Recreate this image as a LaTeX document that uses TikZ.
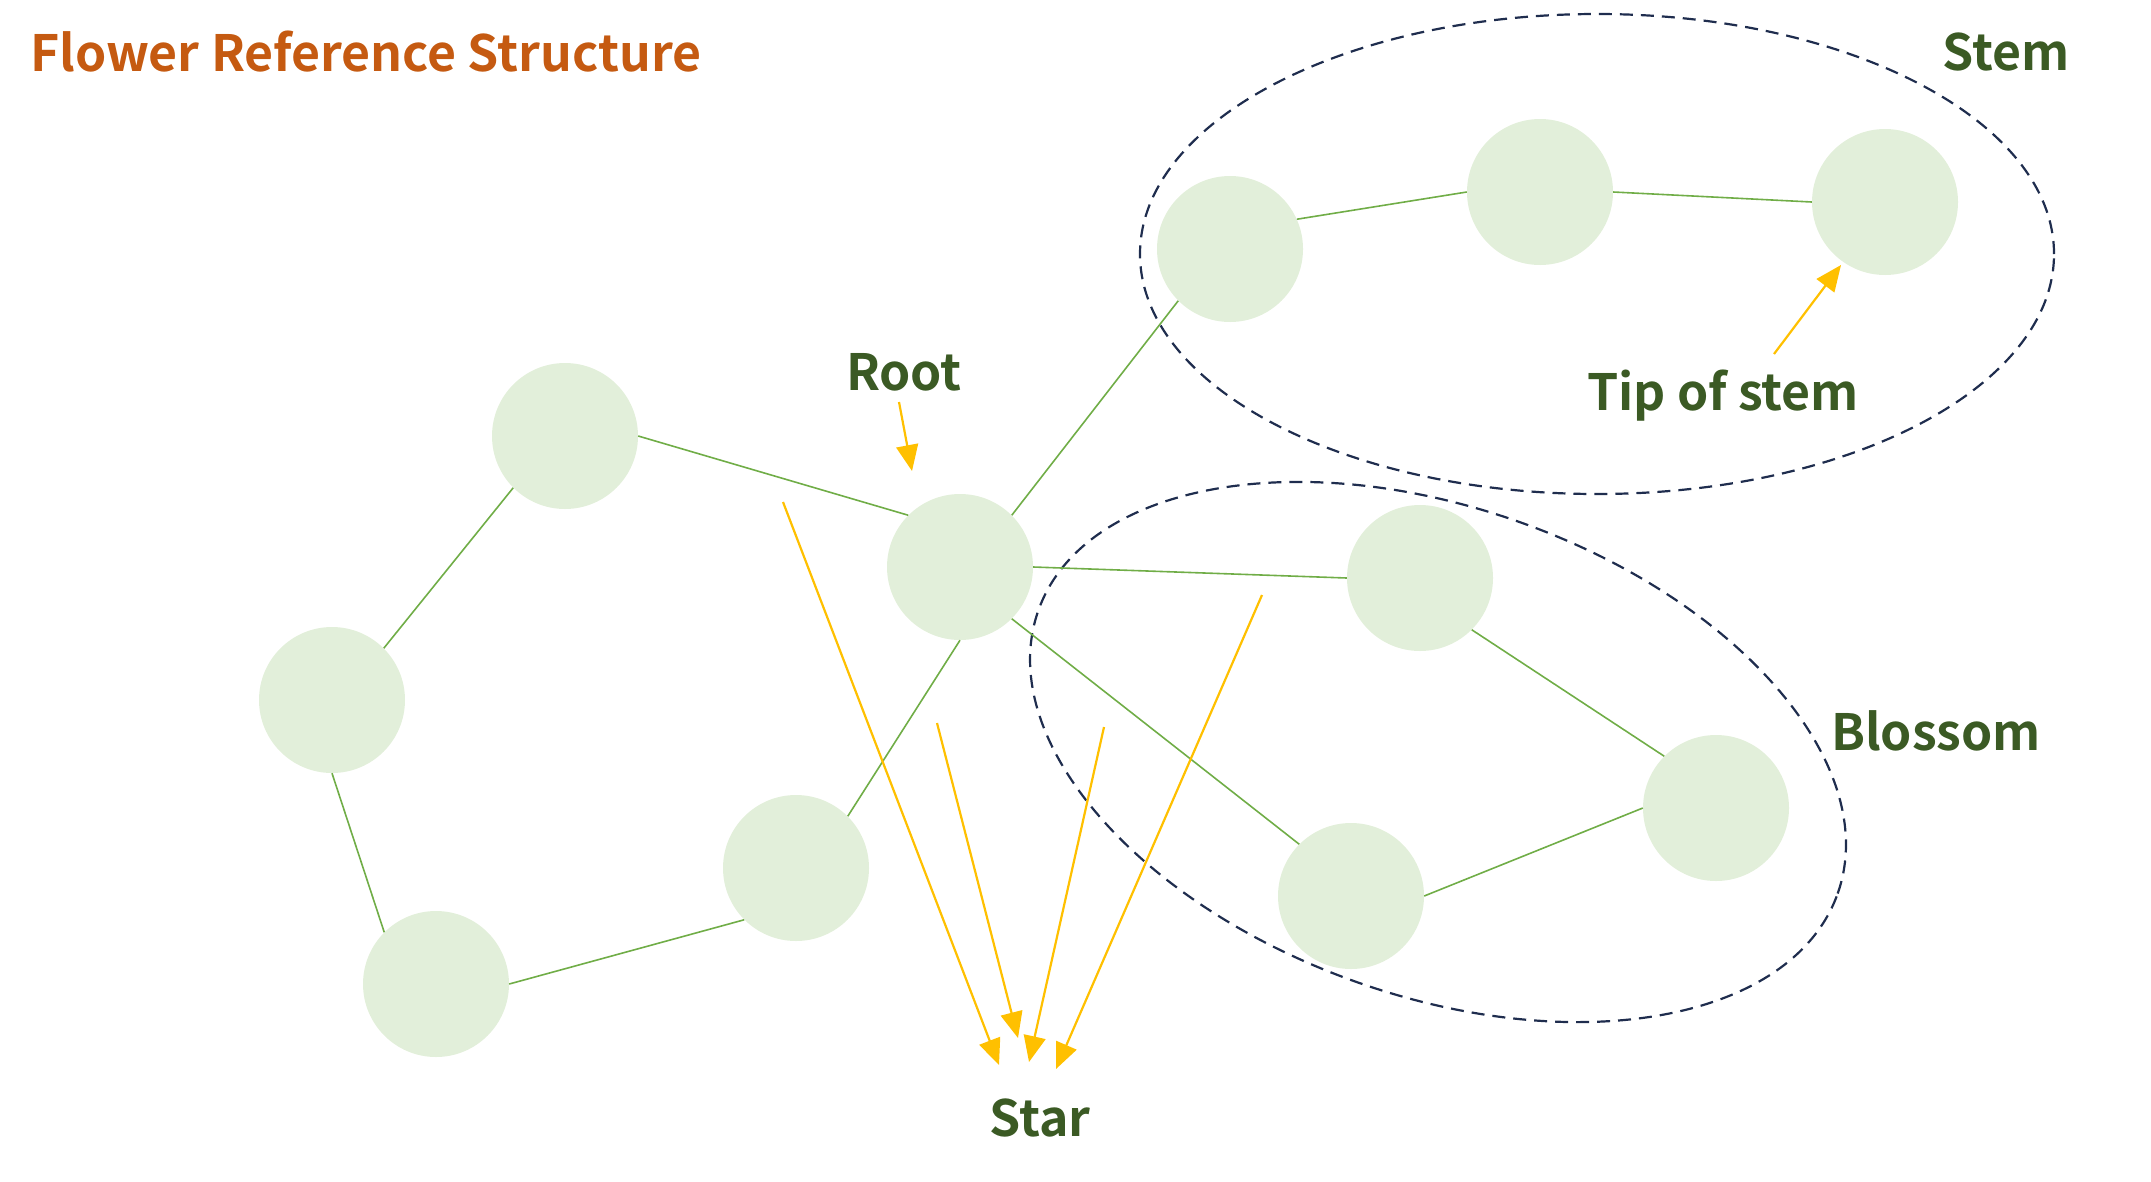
\documentclass[tikz,border=0pt]{standalone}
\usepackage{fontspec}
\usepackage{tikz}
\usetikzlibrary{arrows.meta}
\usetikzlibrary{positioning}
\newfontfamily\labelfont{Noto Sans CJK SC Bold}
\definecolor{petalcolour}{HTML}{E2EFDA}
\definecolor{stalkcolour}{HTML}{70AD47}
\definecolor{pointercolour}{HTML}{FFC000}
\definecolor{hullcolour}{HTML}{1F2D4E}
\definecolor{labelcolour}{HTML}{3B5A24}
\definecolor{titlecolour}{HTML}{C55A11}
\tikzset{>={Triangle[length=26pt,width=22pt]}}
\newcommand\linewd{1.6pt}
\newcommand\pointerwidth{2.2pt}
\newcommand\hullwidth{2.2pt}
\tikzstyle{stalk}   = [line width=\linewd, color=stalkcolour]
\tikzstyle{pointer} = [line width=\pointerwidth, color=pointercolour]
\tikzstyle{hull}    = [line width=\hullwidth, color=hullcolour, dash pattern=on 13pt off 8pt]
\tikzstyle{petal}   = [circle, fill=petalcolour, minimum size=146pt, inner sep=0pt]
\tikzstyle{caption} = [font=\labelfont\fontsize{50}{50}\selectfont, text=labelcolour, inner sep=0pt]

\begin{document}
\begin{tikzpicture}[x=1pt, y=-1pt]
  \useasboundingbox (0, 0) rectangle (2151, 1181);
  % groups
  \draw [hull] (1597, 254) ellipse [x radius=457pt, y radius=240pt];
  \draw [hull, rotate around={-19.5:(1438, 752)}] (1438, 752) ellipse [x radius=424pt, y radius=244pt];
  % petals
  \draw (565, 436) node [petal] (petal1) {};
  \draw (332, 700) node [petal] (petal2) {};
  \draw (436, 984) node [petal] (petal3) {};
  \draw (796, 868) node [petal] (petal4) {};
  \draw (960, 567) node [petal] (root) {};
  \draw (1230, 249) node [petal] (stem1) {};
  \draw (1540, 192) node [petal] (stem2) {};
  \draw (1885, 202) node [petal] (stem3) {};
  \draw (1420, 578) node [petal] (bloom1) {};
  \draw (1716, 808) node [petal] (bloom2) {};
  \draw (1351, 896) node [petal] (bloom3) {};
  \draw (petal1.east) -- (root.north west) [stalk];
  \draw (petal1.south west) -- (petal2.north east) [stalk];
  \draw (petal2.south) -- (petal3.north west) [stalk];
  \draw (petal3.east) -- (petal4.south west) [stalk];
  \draw (petal4.north east) -- (root.south) [stalk];
  \draw (root.north east) -- (stem1.south west) [stalk];
  \draw (stem1.24) -- (stem2.west) [stalk];
  \draw (stem2.east) -- (stem3.west) [stalk];
  \draw (root.east) -- (bloom1.west) [stalk];
  \draw (root.south east) -- (bloom3.north west) [stalk];
  \draw (bloom1.south east) -- (bloom2.north west) [stalk];
  \draw (bloom2.west) -- (bloom3.east) [stalk];
  % labels
  \draw (30, 52) node [anchor=west, inner sep=0pt, text=titlecolour,
    font=\labelfont\fontsize{50}{50}\selectfont] (title) {Flower Reference Structure};
  \draw (904, 372) node [caption] (rootlabel) {Root};
  \draw (1040, 1118) node [caption] (starlabel) {Star};
  \draw (1723, 396) node [caption] (tiplabel) {Tip of stem};
  \draw (2006, 52) node [caption] (stemlabel) {Stem};
  \draw (1936, 731) node [caption] (blossomlabel) {Blossom};
  % pointers
  \coordinate (r0) at (899, 402);
  \coordinate (r1) at (912, 471);
  \coordinate (t0) at (1774, 354);
  \coordinate (t1) at (1841, 265);
  \coordinate (s1a) at (783, 502);
  \coordinate (s1b) at (999, 1065);
  \coordinate (s2a) at (937, 723);
  \coordinate (s2b) at (1018, 1038);
  \coordinate (s3a) at (1104, 727);
  \coordinate (s3b) at (1029, 1062);
  \coordinate (s4a) at (1262, 595);
  \coordinate (s4b) at (1056, 1069);
  \draw (r0) -- (r1) [pointer, ->];
  \draw (t0) -- (t1) [pointer, ->];
  \draw (s1a) -- (s1b) [pointer, ->];
  \draw (s2a) -- (s2b) [pointer, ->];
  \draw (s3a) -- (s3b) [pointer, ->];
  \draw (s4a) -- (s4b) [pointer, ->];
\end{tikzpicture}
\end{document}
